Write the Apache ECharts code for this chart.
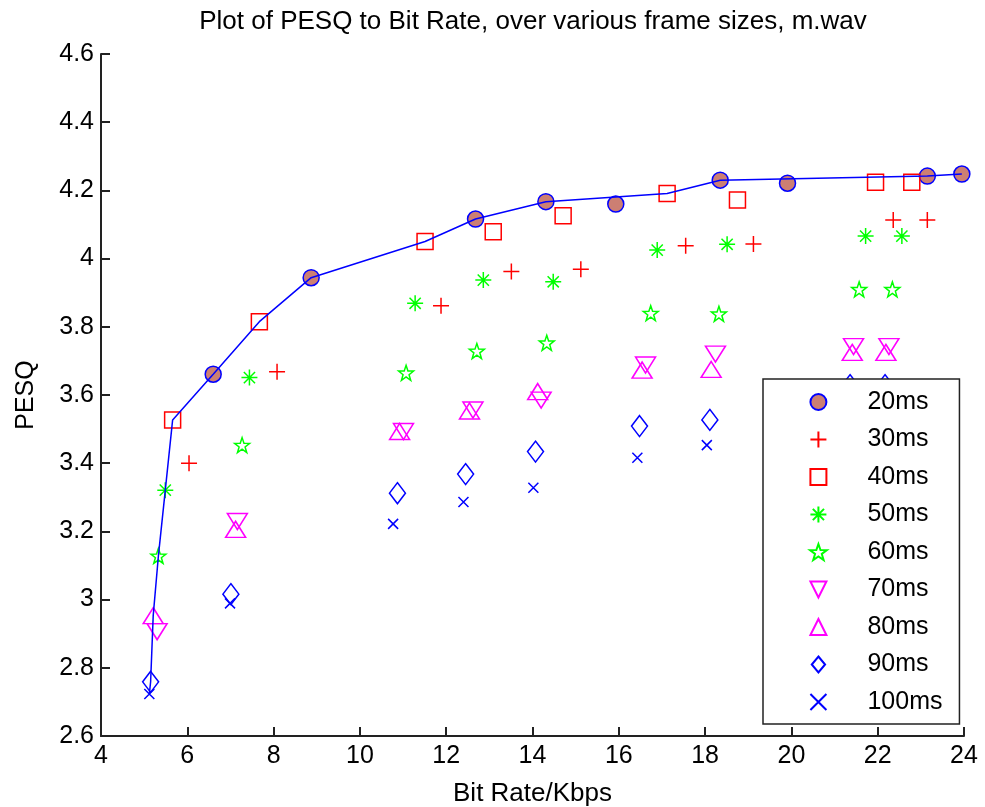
<!DOCTYPE html>
<html>
<head>
<meta charset="utf-8">
<script src="https://cdn.jsdelivr.net/npm/echarts@6/dist/echarts.min.js"></script>
<style>
  html, body { margin: 0; padding: 0; background: #fff; }
  #chart { width: 985px; height: 807px; }
</style>
</head>
<body>
<div id="chart"></div>
<script>
// [bit rate kbps, PESQ] per frame size
const ms20 = [[6.60, 3.661], [8.87, 3.944], [12.68, 4.116], [14.31, 4.167], [15.93, 4.160], [18.35, 4.230], [19.91, 4.221], [23.15, 4.242], [23.95, 4.248]];
const ms30 = [[6.04, 3.400], [8.08, 3.668], [11.88, 3.862], [13.51, 3.962], [15.12, 3.969], [17.55, 4.038], [19.12, 4.043], [22.36, 4.113], [23.15, 4.113]];
const ms40 = [[5.66, 3.527], [7.67, 3.815], [11.51, 4.050], [13.09, 4.079], [14.71, 4.126], [17.12, 4.191], [18.75, 4.172], [21.95, 4.224], [22.79, 4.224]];
const ms50 = [[5.49, 3.321], [7.44, 3.651], [11.28, 3.869], [12.86, 3.937], [14.48, 3.932], [16.89, 4.025], [18.51, 4.042], [21.72, 4.066], [22.56, 4.066]];
const ms60 = [[5.33, 3.128], [7.27, 3.453], [11.07, 3.665], [12.71, 3.729], [14.33, 3.753], [16.74, 3.840], [18.32, 3.838], [21.57, 3.910], [22.34, 3.910]];
const ms70 = [[5.30, 2.906], [7.16, 3.229], [11.01, 3.493], [12.62, 3.556], [14.20, 3.585], [16.62, 3.688], [18.24, 3.720], [21.44, 3.742], [22.26, 3.742]];
const ms80 = [[5.21, 2.953], [7.12, 3.206], [10.92, 3.493], [12.54, 3.553], [14.12, 3.610], [16.54, 3.673], [18.14, 3.675], [21.41, 3.725], [22.19, 3.725]];
const ms90 = [[5.15, 2.759], [7.01, 3.016], [10.87, 3.312], [12.45, 3.368], [14.07, 3.434], [16.48, 3.509], [18.11, 3.527], [21.36, 3.629], [22.17, 3.629]];
const ms100 = [[5.12, 2.723], [6.99, 2.989], [10.77, 3.222], [12.40, 3.286], [14.02, 3.328], [16.43, 3.416], [18.04, 3.453], [21.30, 3.540], [22.10, 3.540]];

// best-quality envelope drawn as the blue line
const envRate = [5.12, 5.15, 5.21, 5.33, 5.49, 5.66, 6.60, 7.67, 8.87, 11.51, 12.68, 14.31, 17.12, 18.35, 23.15, 23.95];
const envPesq = [2.723, 2.759, 2.953, 3.128, 3.321, 3.527, 3.661, 3.815, 3.944, 4.050, 4.116, 4.167, 4.191, 4.230, 4.242, 4.248];

const names = ['20ms', '30ms', '40ms', '50ms', '60ms', '70ms', '80ms', '90ms', '100ms'];

const FONT = "'Liberation Sans', Arial, sans-serif";

const sym = {
  plus: 'path://M5,0L5,10M0,5L10,5',
  square: 'path://M0,0L10,0L10,10L0,10Z',
  aster: 'path://M5,0L5,10M0,5L10,5M1.5,1.5L8.5,8.5M8.5,1.5L1.5,8.5',
  star: 'path://M5,0L6.18,3.38L9.76,3.45L6.9,5.62L7.94,9.05L5,7L2.06,9.05L3.1,5.62L0.24,3.45L3.82,3.38Z',
  down: 'path://M0,0L10,0L5,10Z',
  up: 'path://M5,0L10,10L0,10Z',
  diamond: 'path://M5,0L10,6L5,12L0,6Z',
  cross: 'path://M0,0L10,10M10,0L0,10'
};

function scatter(name, data, symbol, size, color, fill) {
  return {
    name, type: 'scatter', data, symbol, symbolSize: size,
    itemStyle: { color: fill || 'transparent', borderColor: color, borderWidth: 1.5, opacity: 1 },
    z: 2
  };
}

const chart = echarts.init(document.getElementById('chart'));
chart.setOption({
  animation: false,
  backgroundColor: '#fff',
  title: {
    text: 'Plot of PESQ to Bit Rate, over various frame sizes, m.wav',
    left: 528, top: 4, textAlign: 'center',
    textStyle: { fontFamily: FONT, fontSize: 26, fontWeight: 'normal', color: '#000' }
  },
  grid: { left: 101, right: 21, top: 54, bottom: 71, outerBoundsMode: 'none', containLabel: false },
  xAxis: {
    type: 'value', min: 4, max: 24, interval: 2,
    name: 'Bit Rate/Kbps', nameLocation: 'middle', nameGap: 45,
    nameTextStyle: { fontFamily: FONT, fontSize: 26, color: '#000' },
    axisLine: { lineStyle: { color: '#222', width: 2 } },
    axisTick: { inside: true, length: 9, lineStyle: { color: '#222', width: 2 } },
    axisLabel: { fontFamily: FONT, fontSize: 25, color: '#000', margin: 8 },
    splitLine: { show: false }
  },
  yAxis: {
    type: 'value', min: 2.6, max: 4.6, interval: 0.2,
    name: 'PESQ', nameLocation: 'middle', nameGap: 62,
    nameTextStyle: { fontFamily: FONT, fontSize: 25, color: '#000' },
    axisLine: { show: true, lineStyle: { color: '#222', width: 2 } },
    axisTick: { show: true, inside: true, length: 9, lineStyle: { color: '#222', width: 2 } },
    axisLabel: { fontFamily: FONT, fontSize: 25, color: '#000', margin: 7 },
    splitLine: { show: false }
  },
  legend: {
    data: names,
    orient: 'vertical',
    left: 763, top: 379,
    itemWidth: 88, itemHeight: 16, itemGap: 12.5,
    padding: [10.5, 17, 9.5, 46],
    backgroundColor: '#fff',
    borderColor: '#222', borderWidth: 1.5, borderRadius: 0,
    textStyle: { fontFamily: FONT, fontSize: 25, color: '#000', lineHeight: 20 },
    z: 10
  },
  series: [
    scatter('20ms', ms20, 'circle', 16, '#0000ff', '#cc7f73'),
    scatter('30ms', ms30, sym.plus, 16, '#ff0000'),
    scatter('40ms', ms40, sym.square, 16, '#ff0000'),
    scatter('50ms', ms50, sym.aster, 16, '#00ff00'),
    scatter('60ms', ms60, sym.star, 15, '#00ff00'),
    scatter('70ms', ms70, sym.down, [20, 16], '#ff00ff'),
    scatter('80ms', ms80, sym.up, [20, 16], '#ff00ff'),
    scatter('90ms', ms90, sym.diamond, [16, 21], '#0000ff'),
    scatter('100ms', ms100, sym.cross, 10, '#0000ff'),
    {
      name: 'envelope', type: 'line', symbol: 'none', z: 3,
      data: envRate.map((r, i) => [r, envPesq[i]]),
      lineStyle: { color: '#0000ff', width: 1.5 }
    }
  ]
});
</script>
</body>
</html>
